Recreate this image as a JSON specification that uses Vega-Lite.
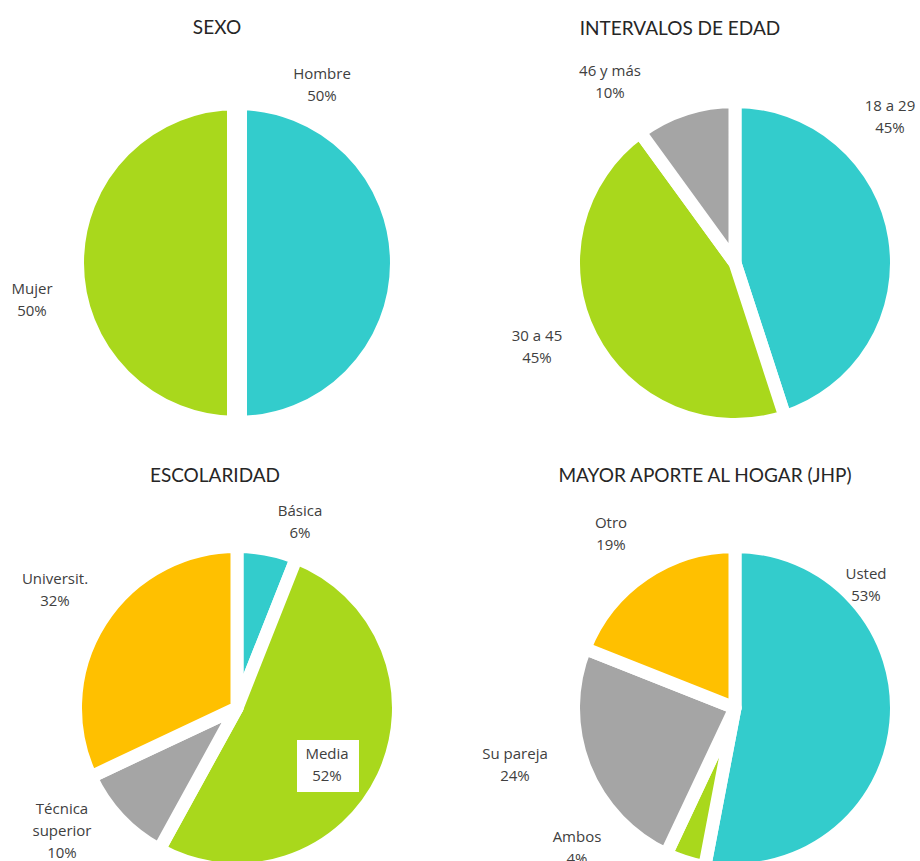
{
  "$schema": "https://vega.github.io/schema/vega-lite/v6.json",
  "width": 920,
  "height": 861,
  "autosize": {"type": "none"},
  "padding": 0,
  "config": {
    "view": {"stroke": null},
    "text": {"font": "Open Sans", "fontSize": 15, "color": "#404040", "lineBreak": "\n", "lineHeight": 22, "align": "center", "baseline": "middle"}
  },
  "datasets": {
    "pies": [
      {"grafico": "Sexo", "columna": "izq", "fila": "sup", "cat": "Hombre", "valor": 50, "orden": 1, "etiqueta": "Hombre\n50%"},
      {"grafico": "Sexo", "columna": "izq", "fila": "sup", "cat": "Mujer", "valor": 50, "orden": 2, "etiqueta": "Mujer\n50%"},
      {"grafico": "Edad", "columna": "der", "fila": "sup", "cat": "18 a 29", "valor": 45, "orden": 1, "etiqueta": "18 a 29\n45%"},
      {"grafico": "Edad", "columna": "der", "fila": "sup", "cat": "30 a 45", "valor": 45, "orden": 2, "etiqueta": "30 a 45\n45%"},
      {"grafico": "Edad", "columna": "der", "fila": "sup", "cat": "46 y más", "valor": 10, "orden": 3, "etiqueta": "46 y más\n10%"},
      {"grafico": "Escolaridad", "columna": "izq", "fila": "inf", "cat": "Básica", "valor": 6, "orden": 1, "etiqueta": "Básica\n6%"},
      {"grafico": "Escolaridad", "columna": "izq", "fila": "inf", "cat": "Media", "valor": 52, "orden": 2, "etiqueta": "Media\n52%"},
      {"grafico": "Escolaridad", "columna": "izq", "fila": "inf", "cat": "Técnica superior", "valor": 10, "orden": 3, "etiqueta": "Técnica\nsuperior\n10%"},
      {"grafico": "Escolaridad", "columna": "izq", "fila": "inf", "cat": "Universit.", "valor": 32, "orden": 4, "etiqueta": "Universit.\n32%"},
      {"grafico": "Aporte", "columna": "der", "fila": "inf", "cat": "Usted", "valor": 53, "orden": 1, "etiqueta": "Usted\n53%"},
      {"grafico": "Aporte", "columna": "der", "fila": "inf", "cat": "Ambos", "valor": 4, "orden": 2, "etiqueta": "Ambos\n4%"},
      {"grafico": "Aporte", "columna": "der", "fila": "inf", "cat": "Su pareja", "valor": 24, "orden": 3, "etiqueta": "Su pareja\n24%"},
      {"grafico": "Aporte", "columna": "der", "fila": "inf", "cat": "Otro", "valor": 19, "orden": 4, "etiqueta": "Otro\n19%"}
    ],
    "titulos": [
      {"grafico": "Sexo", "columna": "izq", "fila": "sup", "titulo": "SEXO"},
      {"grafico": "Edad", "columna": "der", "fila": "sup", "titulo": "INTERVALOS DE EDAD"},
      {"grafico": "Escolaridad", "columna": "izq", "fila": "inf", "titulo": "ESCOLARIDAD"},
      {"grafico": "Aporte", "columna": "der", "fila": "inf", "titulo": "MAYOR APORTE AL HOGAR (JHP)"}
    ]
  },
  "encoding": {
    "x": {"field": "columna", "type": "nominal", "scale": {"type": "point", "domain": ["izq", "der"], "padding": 0.4237, "align": 0.5616}, "axis": null},
    "y": {"field": "fila", "type": "nominal", "scale": {"type": "point", "domain": ["sup", "inf"], "padding": 0.4674, "align": 0.6322}, "axis": null}
  },
  "layer": [
    {
      "data": {"name": "pies"},
      "transform": [
        {"stack": "valor", "groupby": ["grafico"], "sort": [{"field": "orden", "order": "ascending"}], "offset": "normalize", "as": ["v0", "v1"]}
      ],
      "layer": [
        {
          "transform": [{"filter": "datum.grafico === 'Sexo'"}],
          "mark": {"type": "arc", "radius": 163, "stroke": "white", "strokeWidth": 20, "strokeJoin": "round"},
          "encoding": {
            "theta": {"field": "v0", "type": "quantitative", "scale": {"domain": [0, 1]}},
            "theta2": {"field": "v1"},
            "color": {"field": "orden", "type": "ordinal", "scale": {"domain": [1, 2, 3, 4], "range": ["#33CCCC", "#A9D81C", "#A5A5A5", "#FFC000"]}, "legend": null}
          }
        },
        {
          "transform": [{"filter": "datum.grafico !== 'Sexo'"}],
          "mark": {"type": "arc", "radius": 161.5, "stroke": "white", "strokeWidth": 13, "strokeJoin": "round"},
          "encoding": {
            "theta": {"field": "v0", "type": "quantitative", "scale": {"domain": [0, 1]}},
            "theta2": {"field": "v1"},
            "color": {"field": "orden", "type": "ordinal", "scale": {"domain": [1, 2, 3, 4], "range": ["#33CCCC", "#A9D81C", "#A5A5A5", "#FFC000"]}, "legend": null}
          }
        },
        {
          "transform": [{"filter": "datum.cat === 'Media'"}],
          "mark": {"type": "point", "shape": "M-1,-0.84H1V0.84H-1Z", "filled": true, "fill": "white", "opacity": 1, "strokeWidth": 0, "size": 3844, "xOffset": 91, "yOffset": 58}
        },
        {"transform": [{"filter": "datum.cat === 'Hombre'"}], "mark": {"type": "text", "dx": 85, "dy": -189}, "encoding": {"text": {"field": "etiqueta"}}},
        {"transform": [{"filter": "datum.cat === 'Mujer'"}], "mark": {"type": "text", "dx": -205, "dy": 26}, "encoding": {"text": {"field": "etiqueta"}}},
        {"transform": [{"filter": "datum.cat === '18 a 29'"}], "mark": {"type": "text", "dx": 155, "dy": -157}, "encoding": {"text": {"field": "etiqueta"}}},
        {"transform": [{"filter": "datum.cat === '30 a 45'"}], "mark": {"type": "text", "dx": -198, "dy": 73}, "encoding": {"text": {"field": "etiqueta"}}},
        {"transform": [{"filter": "datum.cat === '46 y más'"}], "mark": {"type": "text", "dx": -125, "dy": -192}, "encoding": {"text": {"field": "etiqueta"}}},
        {"transform": [{"filter": "datum.cat === 'Básica'"}], "mark": {"type": "text", "dx": 63, "dy": -197}, "encoding": {"text": {"field": "etiqueta"}}},
        {"transform": [{"filter": "datum.cat === 'Media'"}], "mark": {"type": "text", "dx": 90, "dy": 46}, "encoding": {"text": {"field": "etiqueta"}}},
        {"transform": [{"filter": "datum.cat === 'Técnica superior'"}], "mark": {"type": "text", "dx": -175, "dy": 101}, "encoding": {"text": {"field": "etiqueta"}}},
        {"transform": [{"filter": "datum.cat === 'Universit.'"}], "mark": {"type": "text", "dx": -182, "dy": -129}, "encoding": {"text": {"field": "etiqueta"}}},
        {"transform": [{"filter": "datum.cat === 'Usted'"}], "mark": {"type": "text", "dx": 131, "dy": -134}, "encoding": {"text": {"field": "etiqueta"}}},
        {"transform": [{"filter": "datum.cat === 'Ambos'"}], "mark": {"type": "text", "dx": -158, "dy": 129}, "encoding": {"text": {"field": "etiqueta"}}},
        {"transform": [{"filter": "datum.cat === 'Su pareja'"}], "mark": {"type": "text", "dx": -220, "dy": 46}, "encoding": {"text": {"field": "etiqueta"}}},
        {"transform": [{"filter": "datum.cat === 'Otro'"}], "mark": {"type": "text", "dx": -124, "dy": -185}, "encoding": {"text": {"field": "etiqueta"}}}
      ]
    },
    {
      "data": {"name": "titulos"},
      "layer": [
        {"transform": [{"filter": "datum.grafico === 'Sexo'"}], "mark": {"type": "text", "font": "Lato", "fontSize": 19, "color": "#262626", "baseline": "alphabetic", "dx": -20, "dy": -229}, "encoding": {"text": {"field": "titulo"}}},
        {"transform": [{"filter": "datum.grafico === 'Edad'"}], "mark": {"type": "text", "font": "Lato", "fontSize": 19, "color": "#262626", "baseline": "alphabetic", "dx": -55, "dy": -228}, "encoding": {"text": {"field": "titulo"}}},
        {"transform": [{"filter": "datum.grafico === 'Escolaridad'"}], "mark": {"type": "text", "font": "Lato", "fontSize": 19, "color": "#262626", "baseline": "alphabetic", "dx": -22, "dy": -226}, "encoding": {"text": {"field": "titulo"}}},
        {"transform": [{"filter": "datum.grafico === 'Aporte'"}], "mark": {"type": "text", "font": "Lato", "fontSize": 19, "color": "#262626", "baseline": "alphabetic", "dx": -30, "dy": -226}, "encoding": {"text": {"field": "titulo"}}}
      ]
    }
  ]
}
